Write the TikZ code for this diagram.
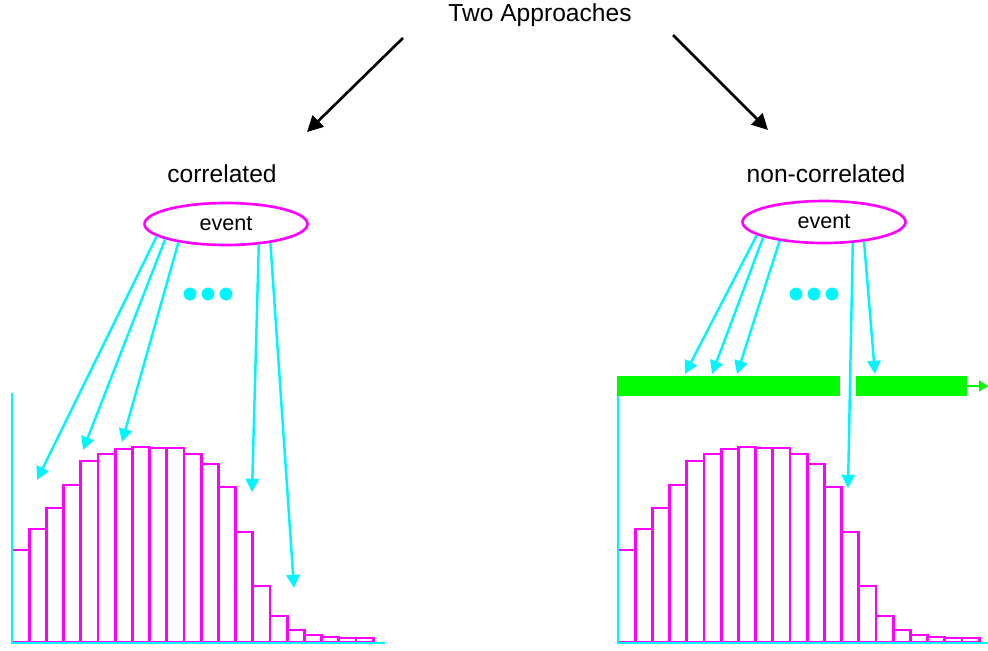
\documentclass[tikz,border=0pt]{standalone}
\usepackage{fontspec}
\setmainfont{Liberation Sans}
\usepackage{tikz}
\usetikzlibrary{arrows.meta,shapes.geometric}
\definecolor{evcyan}{RGB}{0,245,255}
\definecolor{evmagenta}{RGB}{255,0,255}
\definecolor{evgreen}{RGB}{0,250,0}
\newcommand{\histheights}{92,113,134,157,181,188,193,195,194,194,188,178,155,110,56,26,12,7,5,4,4}

\begin{document}
\begin{tikzpicture}[
  x=0.02cm, y=-0.02cm,
  lbl/.style={font=\fontsize{14}{16}\selectfont, anchor=base, inner sep=0pt},
  event/.style={ellipse, draw=evmagenta, line width=1.5pt, minimum width=3.26cm, minimum height=0.84cm, inner sep=0pt, font=\fontsize{12.3}{14}\selectfont},
  hit/.style={-{Triangle[length=7.5pt,width=7.5pt]}, draw=evcyan, line width=1.4pt},
  split/.style={-{Triangle[length=9pt,width=9pt]}, line width=1.5pt},
  dot/.style={circle, fill=evcyan, inner sep=0pt, minimum size=7.3pt},
  bin/.style={draw=evmagenta, line width=1.6pt},
  axis/.style={draw=evcyan, line width=1.4pt},
  band/.style={rectangle, fill=evgreen, draw=none, inner sep=0pt, minimum height=0.4cm}
]
\useasboundingbox (0,0) rectangle (988,650);

\node[lbl] (title) at (540,21) {Two Approaches};
\node[lbl] (corr) at (222,182) {correlated};
\node[lbl] (ncorr) at (826,182) {non-correlated};

\coordinate (tL0) at (403,38);
\coordinate (tL1) at (307,132);
\coordinate (tR0) at (673,35);
\coordinate (tR1) at (768,130);
\draw[split] (tL0) -- (tL1);
\draw[split] (tR0) -- (tR1);

\node[event] (evL) at (226,224) {event};
\node[event] (evR) at (824,222) {event};

% dots
\foreach \dx [count=\i] in {190,208,226} \node[dot] (dL\i) at (\dx,294) {};
\foreach \dx [count=\i] in {796,814,832} \node[dot] (dR\i) at (\dx,294) {};

% histograms
\foreach \hx in {12,618} {
  \foreach \h [count=\i from 0] in \histheights {
    \draw[bin] (\hx+17.2*\i,642) rectangle ++(17.2,-\h);
  }
}
\draw[axis] (12,393) -- (12,643) -- (385,643);
\draw[axis] (618,396) -- (618,643) -- (988,643);

% green bands
\node[band, minimum width=4.46cm] (gbL) at (728.5,386) {};
\node[band, minimum width=2.22cm] (gbR) at (911.5,386) {};
\coordinate (gTip) at (988,386);
\draw[evgreen, line width=1.3pt, -{Triangle[length=5pt,width=6pt]}] (gbR.east) -- (gTip);

% hits, correlated
\coordinate (hL1) at (37,480);
\coordinate (hL2) at (83,450);
\coordinate (hL3) at (122,442);
\coordinate (hL4) at (252,492);
\coordinate (hL5) at (294,588);
\draw[hit] (evL.190) -- (hL1);
\draw[hit] (evL.194) -- (hL2);
\draw[hit] (evL.201) -- (hL3);
\draw[hit] (evL.328) -- (hL4);
\draw[hit] (evL.337) -- (hL5);

% hits, non-correlated
\coordinate (hR1) at (685,374);
\coordinate (hR2) at (712,374);
\coordinate (hR3) at (737,374);
\coordinate (hR4) at (848,488);
\coordinate (hR5) at (875,374);
\draw[hit] (evR.191) -- (hR1);
\draw[hit] (evR.194) -- (hR2);
\draw[hit] (evR.203) -- (hR3);
\draw[hit] (evR.324) -- (hR4);
\draw[hit] (evR.334) -- (hR5);
\end{tikzpicture}
\end{document}
